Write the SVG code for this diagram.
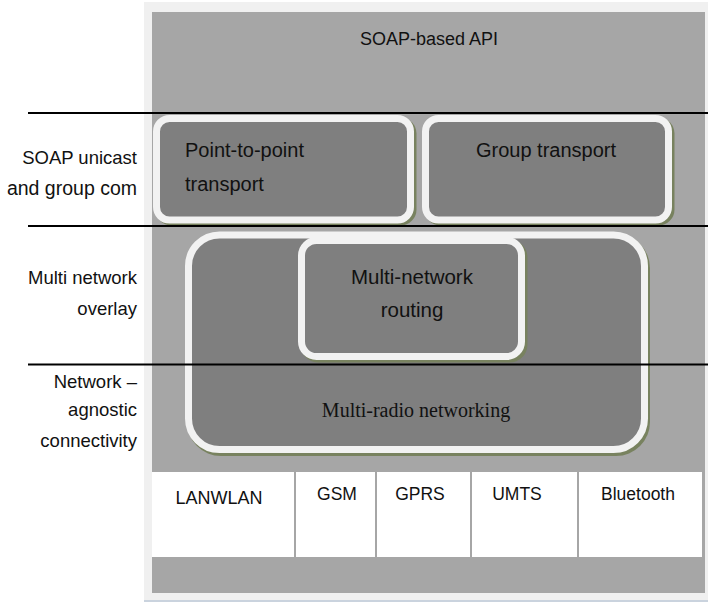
<svg xmlns="http://www.w3.org/2000/svg" width="708" height="603" viewBox="0 0 708 603">
  <style>
    .sans { font-family: "Liberation Sans", Arial, sans-serif; fill: #111; }
    .serif { font-family: "Liberation Serif", "Times New Roman", serif; fill: #111; }
    .box { fill: #7f7f7f; stroke: #f2f2f2; stroke-width: 7; }
    .shadow { fill: #78825f; }
    .cell { fill: #ffffff; }
    .rule { stroke: #000; stroke-width: 1.8; }
  </style>

  <!-- background frame -->
  <rect x="0" y="0" width="708" height="603" fill="#ffffff"/>
  <rect id="frame" x="144" y="2" width="564" height="598" fill="#f0f0f0"/>
  <line x1="144" y1="601" x2="708" y2="601" stroke="#b9c5d3" stroke-width="1.5"/>
  <rect id="panel" x="152" y="12" width="553" height="581" fill="#a6a6a6"/>

  <g id="api">
    <text class="sans" x="429" y="45" font-size="18" text-anchor="middle">SOAP-based API</text>
  </g>

  <g id="point-to-point">
    <rect class="shadow" x="155.5" y="117.5" width="261" height="108" rx="16"/>
    <rect class="box" x="156.5" y="118.5" width="254" height="101.5" rx="13"/>
    <text class="sans" x="185" y="157" font-size="20">Point-to-point</text>
    <text class="sans" x="185" y="191" font-size="20">transport</text>
  </g>

  <g id="group-transport">
    <rect class="shadow" x="424.5" y="117.5" width="250" height="108" rx="16"/>
    <rect class="box" x="425.5" y="118.5" width="243" height="101.5" rx="13"/>
    <text class="sans" x="546" y="157" font-size="20" text-anchor="middle">Group transport</text>
  </g>

  <g id="multi-radio">
    <rect class="shadow" x="187" y="234" width="463" height="222" rx="34"/>
    <rect class="box" x="188.5" y="235" width="456" height="214.5" rx="31"/>
    <text class="serif" x="416" y="417" font-size="20" text-anchor="middle">Multi-radio networking</text>
  </g>

  <g id="multi-network-routing">
    <rect class="shadow" x="300.5" y="239.5" width="227" height="123" rx="18"/>
    <rect class="box" x="301.5" y="240.5" width="220" height="116" rx="15"/>
    <text class="sans" x="412" y="284" font-size="20.5" text-anchor="middle">Multi-network</text>
    <text class="sans" x="412" y="317" font-size="20.5" text-anchor="middle">routing</text>
  </g>

  <g id="links">
    <rect class="cell" x="152" y="472" width="142" height="85"/>
    <rect class="cell" x="296" y="472" width="79" height="85"/>
    <rect class="cell" x="377" y="472" width="93" height="85"/>
    <rect class="cell" x="472" y="472" width="105" height="85"/>
    <rect class="cell" x="579" y="472" width="123" height="85"/>
    <text class="sans" x="219" y="504" font-size="18" text-anchor="middle">LANWLAN</text>
    <text class="sans" x="337" y="500" font-size="17.5" text-anchor="middle">GSM</text>
    <text class="sans" x="420" y="500" font-size="17.5" text-anchor="middle">GPRS</text>
    <text class="sans" x="517" y="500" font-size="17.5" text-anchor="middle">UMTS</text>
    <text class="sans" x="638" y="500" font-size="17.5" text-anchor="middle">Bluetooth</text>
  </g>

  <!-- layer boundaries -->
  <g id="connectors">
    <line class="rule" x1="28" y1="113" x2="708" y2="113"/>
    <line class="rule" x1="28" y1="226" x2="708" y2="226"/>
    <line class="rule" x1="28" y1="364.5" x2="708" y2="364.5"/>
  </g>

  <g id="layer-labels">
    <text class="sans" x="137" y="164" font-size="18.5" text-anchor="end">SOAP unicast</text>
    <text class="sans" x="137" y="195" font-size="19.5" text-anchor="end">and group com</text>
    <text class="sans" x="137" y="284" font-size="18.5" text-anchor="end">Multi network</text>
    <text class="sans" x="137" y="315" font-size="18.5" text-anchor="end">overlay</text>
    <text class="sans" x="137" y="388" font-size="18.5" text-anchor="end">Network –</text>
    <text class="sans" x="137" y="416" font-size="18.5" text-anchor="end">agnostic</text>
    <text class="sans" x="137" y="447" font-size="18.5" text-anchor="end">connectivity</text>
  </g>
</svg>
